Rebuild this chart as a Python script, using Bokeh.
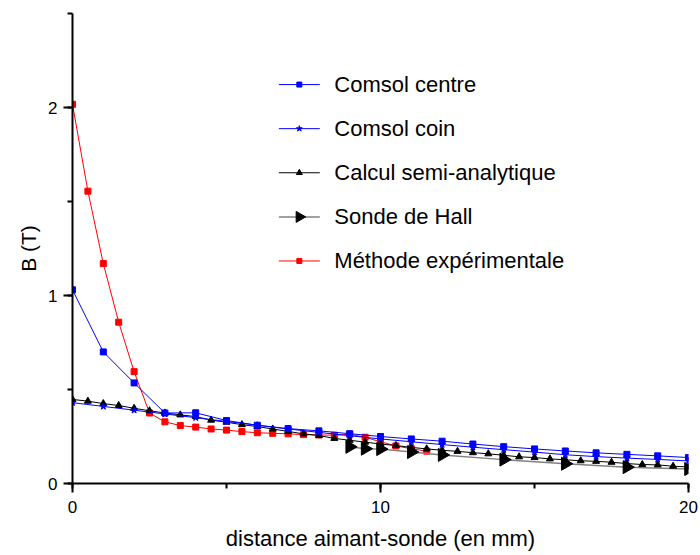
import numpy as np
from bokeh.plotting import figure
from bokeh.models import SingleIntervalTicker, Range1d, Title
from bokeh.core.properties import value
from bokeh.embed import file_html
from bokeh.resources import INLINE

# ---- data ----
x_comsol = [0, 1, 2, 3, 4, 5, 6, 7, 8, 9, 10, 11, 12, 13, 14, 15, 16, 17, 18, 19, 20]
b_centre = [1.03, 0.70, 0.535, 0.375, 0.376, 0.335, 0.31, 0.292, 0.28, 0.265, 0.25,
            0.237, 0.225, 0.21, 0.196, 0.184, 0.173, 0.163, 0.155, 0.147, 0.138]
b_coin = [0.43, 0.41, 0.39, 0.37, 0.35, 0.33, 0.31, 0.29, 0.272, 0.254, 0.237,
          0.222, 0.207, 0.193, 0.18, 0.167, 0.153, 0.143, 0.135, 0.128, 0.12]

x_calcul = [0, 0.5, 1, 1.5, 2, 2.5, 3, 3.5, 4, 4.5, 5, 5.5, 6, 6.5, 7, 7.5, 8, 8.5, 9, 9.5,
            10, 10.5, 11, 11.5, 12, 12.5, 13, 13.5, 14, 14.5, 15, 15.5, 16, 16.5, 17, 17.5,
            18, 18.5, 19, 19.5, 20]
b_calcul = [0.447, 0.438, 0.425, 0.415, 0.40, 0.387, 0.375, 0.365, 0.356, 0.337, 0.326,
            0.313, 0.303, 0.29, 0.277, 0.264, 0.255, 0.24, 0.23, 0.22, 0.21, 0.202, 0.192,
            0.184, 0.177, 0.171, 0.164, 0.158, 0.15, 0.142, 0.138, 0.131, 0.126, 0.121,
            0.118, 0.113, 0.106, 0.101, 0.099, 0.092, 0.088]

x_hall = [9, 9.5, 10, 11, 12, 14, 16, 18, 20]
b_hall = [0.195, 0.185, 0.183, 0.167, 0.152, 0.127, 0.105, 0.087, 0.077]

x_exp = [0, 0.5, 1, 1.5, 2, 2.5, 3, 3.5, 4, 4.5, 5, 5.5, 6, 6.5, 7, 7.5, 8, 8.5, 9, 9.5,
         10, 10.5, 11, 11.5]
b_exp = [2.017, 1.555, 1.17, 0.858, 0.595, 0.375, 0.328, 0.308, 0.30, 0.29, 0.284, 0.276,
         0.27, 0.267, 0.264, 0.26, 0.258, 0.257, 0.262, 0.246, 0.222, 0.2, 0.185, 0.172]

labels = ["Comsol centre", "Comsol coin", "Calcul semi-analytique", "Sonde de Hall",
          "Méthode expérimentale"]
x_title = "distance aimant-sonde (en mm)"
y_title = "B (T)"

FONT = "Liberation Sans"
red = "#FF0000"
blue = "#0000FF"

p = figure(width=700, height=555, x_range=Range1d(0, 20), y_range=Range1d(0, 2.5),
           output_backend="svg", toolbar_location=None,
           min_border_left=72, min_border_right=12, min_border_top=13, min_border_bottom=72)
p.xgrid.visible = False
p.ygrid.visible = False
p.outline_line_color = None
p.background_fill_color = "white"
p.border_fill_color = "white"

p.xaxis.ticker = SingleIntervalTicker(interval=10, num_minor_ticks=2)
p.yaxis.ticker = SingleIntervalTicker(interval=1, num_minor_ticks=2)
for ax in (p.xaxis[0], p.yaxis[0]):
    ax.axis_line_width = 2
    ax.axis_line_color = "black"
    ax.major_tick_line_width = 2
    ax.minor_tick_line_width = 2
    ax.major_tick_line_color = "black"
    ax.minor_tick_line_color = "black"
    ax.major_tick_out = 9
    ax.major_tick_in = 0
    ax.minor_tick_out = 5
    ax.minor_tick_in = 0
    ax.major_label_text_font = FONT
    ax.major_label_text_font_size = "17px"
    ax.major_label_text_color = "black"
p.xaxis.major_label_standoff = 8
p.yaxis.major_label_standoff = 6

p.xaxis.axis_label = x_title
p.xaxis.axis_label_text_font = FONT
p.xaxis.axis_label_text_font_size = "22px"
p.xaxis.axis_label_text_font_style = "normal"
p.xaxis.axis_label_text_color = "black"
p.xaxis.axis_label_standoff = 10

p.add_layout(Title(text=y_title, align="center", offset=-20, standoff=11,
                   text_font=FONT, text_font_size="21px", text_font_style="normal",
                   text_color="black"), "left")

# ---- series ----
p.line(x_exp, b_exp, line_color=red, line_width=1)
p.scatter(x_exp, b_exp, marker="square", size=6, fill_color=red, line_color=red)

p.line(x_hall, b_hall, line_color="#808080", line_width=1.5)
p.scatter(x_hall, b_hall, marker="triangle", angle=-np.pi / 2, size=13,
          fill_color="black", line_color="black")

p.line(x_calcul, b_calcul, line_color="black", line_width=1)
p.scatter(x_calcul, b_calcul, marker="triangle", size=7, fill_color="black",
          line_color="black")

p.line(x_comsol, b_coin, line_color=blue, line_width=1)
p.scatter(x_comsol, b_coin, marker="star", size=7, fill_color=blue, line_color=blue)

p.line(x_comsol, b_centre, line_color=blue, line_width=1)
p.scatter(x_comsol, b_centre, marker="square", size=6, fill_color=blue, line_color=blue)

# ---- legend, drawn as sample glyphs in the empty upper area ----
leg_x0, leg_x1, leg_text_x = 6.70, 8.03, 8.50
leg_top, leg_step = 2.122, 0.2346
rows = [leg_top - i * leg_step for i in range(len(labels))]
mid = (leg_x0 + leg_x1) / 2
line_cols = [blue, blue, "black", "#808080", red]
line_w = [1, 1, 1, 1.5, 1]
mk_cols = [blue, blue, "black", "black", red]
mk_types = ["square", "star", "triangle", "triangle", "square"]
mk_sizes = [5, 6, 6, 11, 5]
mk_angles = [0, 0, 0, -np.pi / 2, 0]

p.segment(x0=[leg_x0] * 5, y0=rows, x1=[leg_x1] * 5, y1=rows,
          line_color=line_cols, line_width=line_w)
p.scatter(x=[mid] * 5, y=rows, marker=mk_types, size=mk_sizes, angle=mk_angles,
          fill_color=mk_cols, line_color=mk_cols)
p.text(x=[leg_text_x] * 5, y=rows, text=labels, text_baseline="middle",
       text_align="left", text_font=value(FONT), text_font_size="22px",
       text_color="black")

open("out.html", "w").write(file_html(p, INLINE))
